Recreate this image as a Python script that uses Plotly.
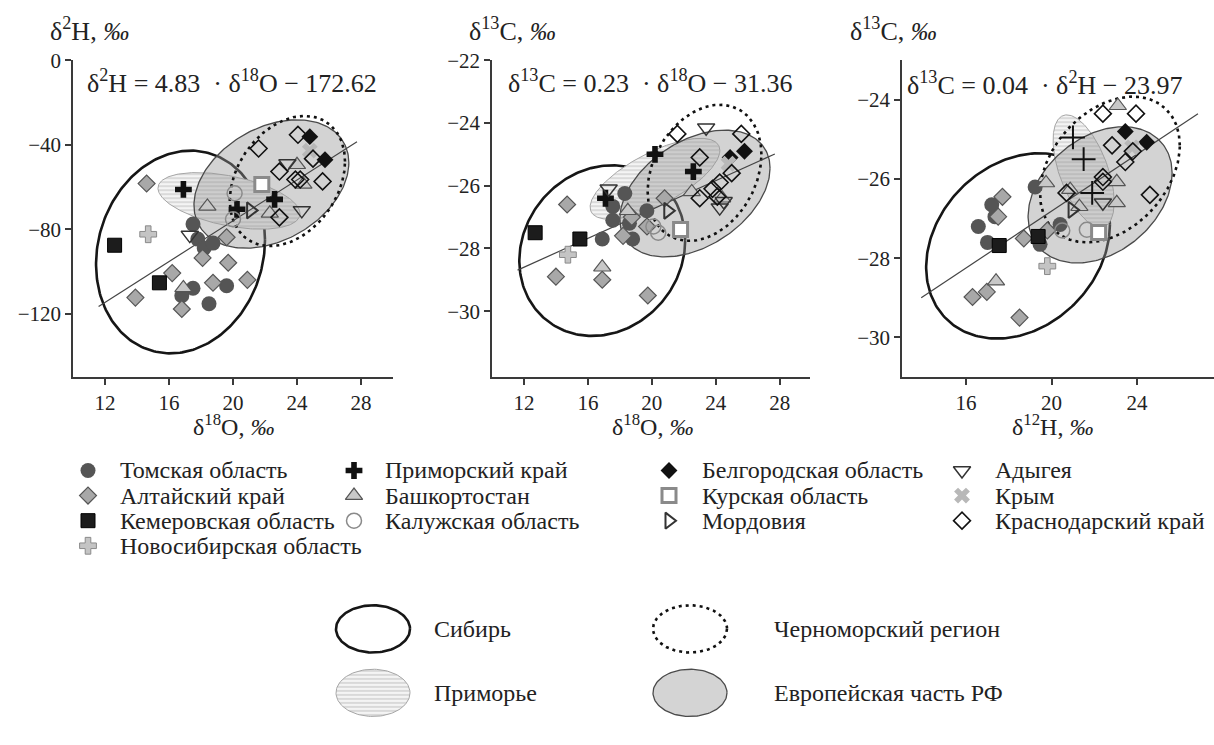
import numpy as np
import plotly.graph_objects as go

# ---------------- data ----------------
# each region: panel -> list of (x, y)
# p1: x = d18O, y = d2H ; p2: x = d18O, y = d13C ; p3: x = "d12H", y = d13C
tomsk = {
    "p1": [(17.5, -77.6), (17.8, -84.7), (18.2, -88.9), (18.75, -86.6), (17.5, -108), (16.8, -111.5), (19.6, -106.8), (18.5, -115.3)],
    "p2": [(18.31, -26.25), (17.56, -26.66), (19.69, -26.8), (17.56, -27.1), (18.6, -27.2), (18.8, -27.7), (16.9, -27.7)],
    "p3": [(19.23, -26.2), (17.2, -26.65), (17.35, -26.95), (16.57, -27.2), (17.0, -27.6), (19.46, -27.65), (20.4, -27.15)],
}
altai = {
    "p1": [(14.6, -58.4), (19.6, -83.8), (18.1, -93.6), (19.7, -95.9), (16.2, -100.8), (18.75, -105.4), (20.9, -104), (13.9, -112.4), (16.8, -117.8)],
    "p2": [(14.7, -26.6), (20.8, -26.4), (19.7, -27.3), (18.2, -27.6), (14.0, -28.9), (16.9, -29.0), (19.75, -29.5), (18.75, -27.0)],
    "p3": [(17.7, -26.45), (17.5, -26.95), (18.7, -27.5), (19.8, -27.3), (16.3, -28.98), (16.97, -28.85), (18.5, -29.5)],
}
kemerovo = {
    "p1": [(12.6, -87.6), (15.4, -105.4)],
    "p2": [(12.7, -27.5), (15.5, -27.7)],
    "p3": [(17.55, -27.68), (19.37, -27.45)],
}
novosibirsk = {
    "p1": [(14.7, -82.4)],
    "p2": [(14.75, -28.2)],
    "p3": [(19.8, -28.2)],
}
primorsky = {
    "p1": [(16.9, -61.2), (20.25, -70.6), (22.6, -65.9)],
    "p2": [(20.2, -25.0), (22.6, -25.55), (17.1, -26.4)],
    "p3": [(21.0, -24.95), (21.5, -25.5), (21.9, -26.35)],
}
bashkortostan = {
    "p1": [(18.4, -69.2), (22.3, -72.5), (16.9, -107.8), (24.4, -58.8), (24.0, -49.5)],
    "p2": [(18.5, -26.8), (16.9, -28.6), (22.5, -26.2), (24.4, -26.4)],
    "p3": [(17.4, -28.58), (21.3, -26.7), (23.05, -26.07), (23.05, -26.6), (20.87, -26.27), (19.74, -26.1), (23.1, -24.15)],
}
kaluga = {
    "p1": [(20.1, -63.0), (20.0, -75.3)],
    "p2": [(20.1, -27.3), (20.4, -27.5)],
    "p3": [(20.5, -27.3), (21.65, -27.28)],
}
belgorod = {
    "p1": [(24.8, -36.2), (25.75, -47.1)],
    "p2": [(24.9, -25.1), (25.8, -24.9)],
    "p3": [(23.45, -24.8), (24.45, -25.07)],
}
kursk = {
    "p1": [(21.8, -58.8)],
    "p2": [(21.8, -27.4)],
    "p3": [(22.2, -27.35)],
}
mordovia = {
    "p1": [(21.1, -71.1)],
    "p2": [(21.0, -26.8)],
    "p3": [(20.96, -26.78)],
}
adygea = {
    "p1": [(17.3, -82.8), (23.4, -48.9), (24.3, -71.1)],
    "p2": [(23.4, -24.15), (17.3, -26.1), (24.25, -26.7), (24.5, -26.5)],
    "p3": [(22.4, -26.6)],
}
crimea = {
    "p1": [(24.8, -42.8)],
    "p2": [(24.8, -25.3)],
    "p3": [(23.77, -25.2)],
}
krasnodar = {
    "p1": [(24.06, -35.3), (21.6, -41.8), (25.0, -46.6), (22.9, -52.7), (23.9, -56.5), (24.2, -56.5), (25.6, -57.4), (22.9, -74.4)],
    "p2": [(21.6, -24.35), (25.6, -24.35), (23.0, -25.1), (25.0, -25.6), (24.25, -25.9), (23.8, -26.1), (23.0, -26.4), (24.1, -26.35)],
    "p3": [(22.4, -24.35), (23.95, -24.35), (22.83, -25.15), (23.45, -25.57), (22.4, -25.95), (22.4, -26.07), (20.7, -26.35), (24.6, -26.4), (23.8, -25.3)],
}

# group ellipses: (centre x, half width, centre y, half height, correlation)
siberia_ell = {"p1": (16.72, 5.28, -90.8, 48.0, 0.12), "p2": (16.9, 5.19, -28.07, 2.72, 0.12), "p3": (18.43, 4.3, -27.69, 2.34, 0.23)}
primorye_ell = {"p1": (19.75, 4.44, -66.6, 13.4, -0.45), "p2": (20.2, 4.06, -25.78, 1.29, 0.7), "p3": (21.5, 1.43, -25.8, 1.42, -0.55)}
europe_ell = {"p1": (22.4, 4.84, -58.6, 30.4, 0.33), "p2": (22.7, 4.7, -26.25, 2.02, 0.4), "p3": (22.27, 3.37, -26.4, 1.72, 0.32)}
blacksea_ell = {"p1": (23.4, 3.6, -57.2, 30.8, 0.3), "p2": (23.3, 3.56, -25.59, 2.17, 0.27), "p3": (22.73, 3.27, -25.76, 1.84, 0.33)}

# regression lines
reg_p1 = {"slope": 4.83, "intercept": -172.62, "x": [11.6, 27.75]}
reg_p2 = {"slope": 0.23, "intercept": -31.36, "x": [11.6, 27.7]}
reg_p3 = {"x": [13.9, 26.85], "y": [-29.0, -24.35]}

equations = [
    "δ<sup>2</sup>H = 4.83  · δ<sup>18</sup>O − 172.62",
    "δ<sup>13</sup>C = 0.23  · δ<sup>18</sup>O − 31.36",
    "δ<sup>13</sup>C = 0.04  · δ<sup>2</sup>H − 23.97",
]
y_titles = ["δ<sup>2</sup>H, <i>‰</i>", "δ<sup>13</sup>C, <i>‰</i>", "δ<sup>13</sup>C, <i>‰</i>"]
x_titles = ["δ<sup>18</sup>O, <i>‰</i>", "δ<sup>18</sup>O, <i>‰</i>", "δ<sup>12</sup>H, <i>‰</i>"]
x_ticks = [[12, 16, 20, 24, 28], [12, 16, 20, 24, 28], [16, 20, 24]]
y_ticks = [[0, -40, -80, -120], [-22, -24, -26, -28, -30], [-24, -26, -28, -30]]

region_names = ["Томская область", "Алтайский край", "Кемеровская область", "Новосибирская область",
                "Приморский край", "Башкортостан", "Калужская область",
                "Белгородская область", "Курская область", "Мордовия",
                "Адыгея", "Крым", "Краснодарский край"]
ellipse_names = ["Сибирь", "Черноморский регион", "Приморье", "Европейская часть РФ"]

# ---------------- styles ----------------
FONT = "Liberation Serif"
W, H = 1214, 745
region_data = [tomsk, altai, kemerovo, novosibirsk, primorsky, bashkortostan, kaluga,
               belgorod, kursk, mordovia, adygea, crimea, krasnodar]
marker_styles = [
    dict(symbol="circle", size=15, color="#555555", line=dict(width=0)),
    dict(symbol="diamond", size=13, color="#a8a8a8", line=dict(width=1.2, color="#555555")),
    dict(symbol="square", size=14, color="#1c1c1c", line=dict(width=1, color="#000")),
    dict(symbol="cross", size=14, color="#c4c4c4", line=dict(width=1, color="#8a8a8a")),
    dict(symbol="cross", size=14, color="#111111", line=dict(width=0)),
    dict(symbol="triangle-up", size=15, color="#c8c8c8", line=dict(width=1.2, color="#555555")),
    dict(symbol="circle-open", size=15, color="#8a8a8a", line=dict(width=1.5)),
    dict(symbol="diamond", size=13, color="#111111", line=dict(width=0)),
    dict(symbol="square", size=14, color="#ffffff", line=dict(width=3, color="#8a8a8a")),
    dict(symbol="triangle-right-open", size=14, color="#333333", line=dict(width=2)),
    dict(symbol="triangle-down-open", size=15, color="#333333", line=dict(width=1.5)),
    dict(symbol="x", size=14, color="#b8b8b8", line=dict(width=0)),
    dict(symbol="diamond-open", size=13, color="#111111", line=dict(width=1.6)),
]
panel3_override = {4: dict(symbol="cross-thin", size=17, color="#111111", line=dict(width=2, color="#111111"))}

panels = ["p1", "p2", "p3"]
axref = {"p1": ("x", "y"), "p2": ("x2", "y2"), "p3": ("x3", "y3")}


def ellipse(cx, rx, cy, ry, rho, n=240):
    t = np.linspace(0, 2 * np.pi, n)
    return cx + rx * np.cos(t), cy + ry * (rho * np.cos(t) + np.sqrt(1 - rho ** 2) * np.sin(t))


HATCH = dict(shape="-", fgcolor="#9c9c9c", bgcolor="#f4f4f4", size=4, solidity=0.3)

fig = go.Figure()

for p in panels:
    xa, ya = axref[p]
    ex, ey = ellipse(*siberia_ell[p])
    fig.add_trace(go.Scatter(x=ex, y=ey, mode="lines", xaxis=xa, yaxis=ya, showlegend=False,
                             line=dict(color="#161616", width=2.6), hoverinfo="skip"))
    ex, ey = ellipse(*primorye_ell[p])
    fig.add_trace(go.Scatter(x=ex, y=ey, mode="lines", xaxis=xa, yaxis=ya, showlegend=False, fill="toself",
                             fillpattern=HATCH, line=dict(color="#a5a5a5", width=1), hoverinfo="skip"))
    ex, ey = ellipse(*europe_ell[p])
    fig.add_trace(go.Scatter(x=ex, y=ey, mode="lines", xaxis=xa, yaxis=ya, showlegend=False, fill="toself",
                             fillcolor="rgba(150,150,150,0.42)",
                             line=dict(color="#4a4a4a", width=1.3), hoverinfo="skip"))
    ex, ey = ellipse(*blacksea_ell[p])
    fig.add_trace(go.Scatter(x=ex, y=ey, mode="lines", xaxis=xa, yaxis=ya, showlegend=False,
                             line=dict(color="#111111", width=2.6, dash="3px,4px"), hoverinfo="skip"))

for p, reg in (("p1", reg_p1), ("p2", reg_p2)):
    xa, ya = axref[p]
    lx = np.array(reg["x"])
    fig.add_trace(go.Scatter(x=lx, y=reg["slope"] * lx + reg["intercept"], mode="lines", xaxis=xa, yaxis=ya,
                             showlegend=False, line=dict(color="#444444", width=1.2), hoverinfo="skip"))
fig.add_trace(go.Scatter(x=reg_p3["x"], y=reg_p3["y"], mode="lines", xaxis="x3", yaxis="y3",
                         showlegend=False, line=dict(color="#444444", width=1.2), hoverinfo="skip"))

for i, (name, data) in enumerate(zip(region_names, region_data)):
    for p in panels:
        xa, ya = axref[p]
        pts = data[p]
        style = marker_styles[i]
        if p == "p3" and i in panel3_override:
            style = panel3_override[i]
        fig.add_trace(go.Scatter(x=[a for a, b in pts], y=[b for a, b in pts], mode="markers", name=name,
                                 xaxis=xa, yaxis=ya, marker=style, showlegend=False))

# ---------------- legend (helper axis measured in page pixels) ----------------
LEG_TOP = 440
col_marker_x = [88, 354, 669, 962]
col_text_x = [118, 383, 700, 993]
row_y = [466, 491.5, 517, 542.5]
leg_cols = [[0, 1, 2, 3], [4, 5, 6], [7, 8, 9], [10, 11, 12]]
ann = []
for c, members in enumerate(leg_cols):
    for r, i in enumerate(members):
        fig.add_trace(go.Scatter(x=[col_marker_x[c]], y=[row_y[r]], mode="markers", xaxis="x4", yaxis="y4",
                                 marker=marker_styles[i], showlegend=False, hoverinfo="skip"))
        ann.append(dict(text=region_names[i], x=col_text_x[c], y=row_y[r], xref="x4", yref="y4", xanchor="left",
                        yanchor="middle", showarrow=False, font=dict(family=FONT, size=24, color="#222")))

sw_centres = [(373, 627), (690, 627), (373, 692), (690, 692)]
for k, (cx, cy) in enumerate(sw_centres):
    t = np.linspace(0, 2 * np.pi, 120)
    sx, sy = cx + 37 * np.cos(t), cy + 24 * np.sin(t)
    kw = dict(x=sx, y=sy, mode="lines", xaxis="x4", yaxis="y4", showlegend=False, hoverinfo="skip")
    if k == 0:
        fig.add_trace(go.Scatter(**kw, line=dict(color="#161616", width=2.6)))
    elif k == 1:
        fig.add_trace(go.Scatter(**kw, line=dict(color="#111111", width=2.6, dash="3px,4px")))
    elif k == 2:
        fig.add_trace(go.Scatter(**kw, fill="toself", line=dict(color="#a5a5a5", width=1), fillpattern=HATCH))
    else:
        fig.add_trace(go.Scatter(**kw, fill="toself", fillcolor="#d4d4d4", line=dict(color="#4a4a4a", width=1.3)))
lab_x = [432, 772, 432, 772]
for k, nm in enumerate(ellipse_names):
    ann.append(dict(text=nm, x=lab_x[k], y=sw_centres[k][1], xref="x4", yref="y4", xanchor="left",
                    yanchor="middle", showarrow=False, font=dict(family=FONT, size=24, color="#222")))

# ---------------- layout ----------------
axis_common = dict(showline=True, linecolor="#3a3a3a", linewidth=1.5, ticks="outside", ticklen=6, tickwidth=1.5,
                   tickcolor="#3a3a3a", showgrid=False, zeroline=False,
                   tickfont=dict(family=FONT, size=21, color="#222"))

x_dom = [(73, 393), (492, 810), (902, 1214)]
x_rng = [(10, 30), (10, 29.9), (13, 27.6)]
y_rng = [(-150, 0), (-32.1, -22), (-31, -23)]
y_dom = (1 - 371 / H, 1 - 49 / H)

layout = dict(width=W, height=H, margin=dict(l=0, r=0, t=0, b=0),
              paper_bgcolor="white", plot_bgcolor="rgba(0,0,0,0)", showlegend=False)
for j in range(3):
    sx = "" if j == 0 else str(j + 1)
    layout["xaxis" + sx] = dict(axis_common, domain=[x_dom[j][0] / W, x_dom[j][1] / W], range=list(x_rng[j]),
                                tickvals=x_ticks[j], anchor="y" + sx)
    layout["yaxis" + sx] = dict(axis_common, domain=list(y_dom), range=list(y_rng[j]), tickvals=y_ticks[j],
                                anchor="x" + sx)
layout["xaxis4"] = dict(domain=[0, 1], range=[0, W], visible=False, anchor="y4", fixedrange=True)
layout["yaxis4"] = dict(domain=[0, (H - LEG_TOP) / H], range=[H, LEG_TOP], visible=False, anchor="x4",
                        fixedrange=True)
fig.update_layout(**layout)

yt_pos = [(48, 18), (467, 18), (848, 18)]
xt_pos = [233, 652, 1052]
eq_pos = [(85, 71), (506, 71), (905, 73)]
for j in range(3):
    ann.append(dict(text=y_titles[j], x=yt_pos[j][0] / W, y=1 - yt_pos[j][1] / H, xref="paper", yref="paper",
                    xanchor="left", yanchor="middle", showarrow=False, font=dict(family=FONT, size=26, color="#222")))
    ann.append(dict(text=x_titles[j], x=xt_pos[j] / W, y=1 - 420 / H, xref="paper", yref="paper",
                    xanchor="center", yanchor="middle", showarrow=False, font=dict(family=FONT, size=24, color="#222")))
    ann.append(dict(text=equations[j], x=eq_pos[j][0] / W, y=1 - eq_pos[j][1] / H, xref="paper", yref="paper",
                    xanchor="left", yanchor="middle", showarrow=False, font=dict(family=FONT, size=26, color="#222")))
fig.update_layout(annotations=ann)

fig.write_html("out.html")
